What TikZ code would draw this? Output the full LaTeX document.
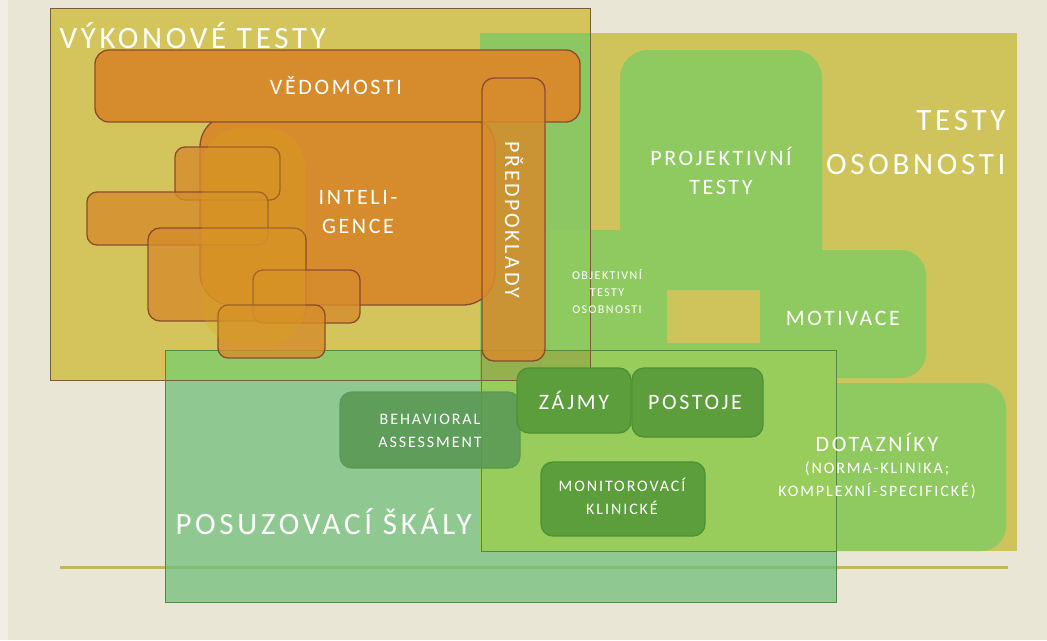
\documentclass[tikz,border=0pt]{standalone}
\usepackage{fontspec}
\setmainfont{Carlito}
\newfontfamily\lblfont[LetterSpace=12]{Carlito}
\usetikzlibrary{positioning}

\definecolor{bgcol}{HTML}{E9E6D6}
\definecolor{bgleft}{HTML}{F1EFE5}
\definecolor{oliveA}{HTML}{D3C55B}
\definecolor{oliveB}{HTML}{CFC45C}
\definecolor{grnAB}{HTML}{8CC763}
\definecolor{grn}{HTML}{8FCA61}
\definecolor{mint}{HTML}{71C07B}
\definecolor{ygrn}{HTML}{8FCB68}
\definecolor{ogrn}{HTML}{93B24D}
\definecolor{brgrn}{HTML}{98CD5B}
\definecolor{orng}{HTML}{D68C2D}
\definecolor{gold}{HTML}{DCA515}
\definecolor{brn}{HTML}{8A4C30}
\definecolor{abrd}{HTML}{7B5B3E}
\definecolor{pline}{HTML}{4F8A3F}
\definecolor{dgrn}{HTML}{5C9E3C}
\definecolor{dgrnline}{HTML}{4C9234}
\definecolor{sgrn}{HTML}{5A9A55}
\definecolor{rule}{HTML}{C4B45C}

\begin{document}
\begin{tikzpicture}[x=1pt, y=-1pt, line width=1pt,
  lbig/.style={text=white, inner sep=0pt, font=\lblfont\fontsize{31}{44}\selectfont},
  lmid/.style={text=white, inner sep=0pt, align=center, font=\lblfont\fontsize{22}{29}\selectfont},
  lsmall/.style={text=white, inner sep=0pt, align=center, font=\lblfont\fontsize{16}{23}\selectfont},
  ltiny/.style={text=white, inner sep=0pt, align=center, font=\lblfont\fontsize{12}{17}\selectfont},
  obox/.style={fill=orng, draw=brn, line width=1.3pt},
  gbox/.style={fill=dgrn, draw=dgrnline, line width=1.3pt, rounded corners=12pt}]
\useasboundingbox (0,0) rectangle (1047,640);
% background
\fill[bgcol] (0,0) rectangle (1047,640);
\fill[bgleft] (0,0) rectangle (8,640);
% performance tests and personality tests
\fill[oliveA] (50,8) rectangle (590,380);
\fill[oliveB] (480,33) rectangle (1017,551);
\fill[grnAB] (480,33) rectangle (590,380);
% green areas inside personality tests
\fill[grn] (550,230) rectangle (667,378);
\fill[grn, rounded corners=28pt] (620,50) rectangle (822,290);
\fill[grn, rounded corners=25pt] (760,250) rectangle (926,378);
\fill[grn] (620,343) rectangle (800,378);
\fill[grn, rounded corners=25pt] (760,383) rectangle (1006,551);
% rule
\draw[rule, line width=3pt] (60,567) -- (1008,567);
% rating scales
\fill[mint, fill opacity=0.75] (165,350) rectangle (836,602);
\fill[ygrn] (165,350) rectangle (480,380);
\fill[brgrn] (480,350) rectangle (836,551);
\fill[ogrn] (480,350) rectangle (590,380);
\draw[abrd] (50,8) rectangle (590,380);
\draw[pline] (165,350) rectangle (836,602);
\draw[pline] (481,350) -- (481,551) -- (836,551);
% orange blocks
\draw[obox, rounded corners=32pt] (200,115) rectangle (495,305);
\draw[obox, fill opacity=0.8, rounded corners=10pt] (175,147) rectangle (280,200);
\draw[obox, fill opacity=0.8, rounded corners=10pt] (87,192) rectangle (268,245);
\draw[obox, fill opacity=0.8, rounded corners=12pt] (148,228) rectangle (306,321);
\draw[obox, fill opacity=0.8, rounded corners=10pt] (253,270) rectangle (360,323);
\draw[obox, fill opacity=0.8, rounded corners=10pt] (218,305) rectangle (325,358);
\fill[gold, opacity=0.28, rounded corners=40pt] (202,128) rectangle (305,345);
\draw[obox, rounded corners=14pt] (95,50) rectangle (580,122);
\draw[obox, fill opacity=0.85, rounded corners=12pt] (482,78) rectangle (545,361);
% dark green boxes
\draw[gbox, fill=sgrn, fill opacity=0.9, draw=sgrn] (340,392) rectangle (520,468);
\draw[gbox] (517,368) rectangle (631,433);
\draw[gbox] (632,368) rectangle (763,437);
\draw[gbox] (541,462) rectangle (705,536);
% labels
\node[lbig, anchor=west] (vykon) at (59,36) {VÝKONOVÉ TESTY};
\node[lbig, anchor=east, align=right] (osob) at (1006,143) {TESTY\\OSOBNOSTI};
\node[lbig, anchor=west] (posuz) at (175,522) {POSUZOVACÍ ŠKÁLY};
\node[lmid] (vedom) at (336,86) {VĚDOMOSTI};
\node[lmid] (intel) at (358,212) {INTELI-\\GENCE};
\node[lmid, rotate=-90] (predp) at (514,220) {PŘEDPOKLADY};
\node[lmid] (proj) at (721,171) {PROJEKTIVNÍ\\TESTY};
\node[lmid] (motiv) at (843,318) {MOTIVACE};
\node[ltiny] (objek) at (607,292) {OBJEKTIVNÍ\\TESTY\\OSOBNOSTI};
\node[lmid] (zajmy) at (574,400) {ZÁJMY};
\node[lmid] (postoje) at (695,402) {POSTOJE};
\node[lsmall] (behav) at (430,431) {BEHAVIORAL\\ASSESSMENT};
\node[lsmall] (monit) at (622,496) {MONITOROVACÍ\\KLINICKÉ};
\node[lmid] (dotaz) at (877,442) {DOTAZNÍKY};
\node[lsmall, below=10pt of dotaz] (dotazsub) {(NORMA-KLINIKA;\\KOMPLEXNÍ-SPECIFICKÉ)};
\end{tikzpicture}
\end{document}
